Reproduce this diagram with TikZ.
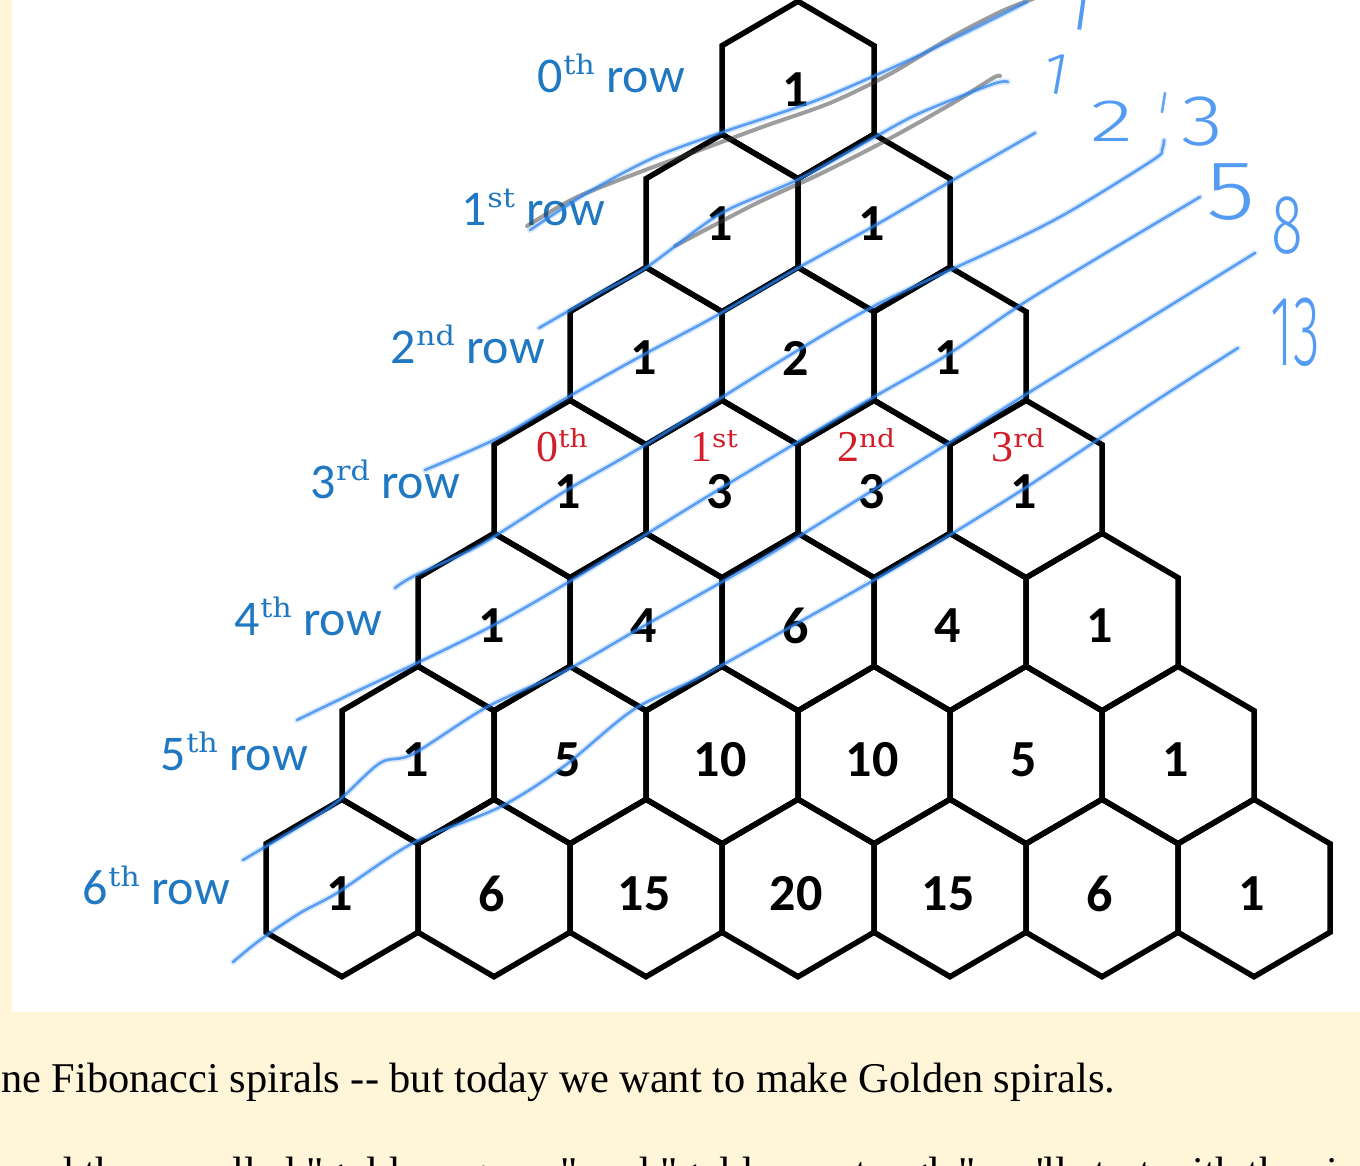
\documentclass[tikz,border=0pt]{standalone}
\usepackage{fontspec}
\usepackage{graphicx}
\newfontfamily\numfont{Carlito}
\newfontfamily\labfont{Carlito}
\newfontfamily\supfont{DejaVu Serif}
\newfontfamily\ordfont{Liberation Serif}
\newfontfamily\pagefont{Liberation Serif}[Ligatures=TeXOff]
% a light face for the pen-written sums, with fallbacks
\IfFontExistsTF{Fira Sans Light}{\newfontfamily\handfont{Fira Sans Light}}{%
 \IfFontExistsTF{Lato Light}{\newfontfamily\handfont{Lato Light}}{%
  \IfFontExistsTF{Open Sans Light}{\newfontfamily\handfont{Open Sans Light}}{%
   \IfFontExistsTF{Poppins Light}{\newfontfamily\handfont{Poppins Light}}{%
    \IfFontExistsTF{DejaVu Sans ExtraLight}{\newfontfamily\handfont{DejaVu Sans ExtraLight}}{%
     \newfontfamily\handfont{Fira Sans}}}}}}

\definecolor{pagecream}{HTML}{FFF6DA}
\definecolor{rowblue}{RGB}{31,120,193}
\definecolor{ordred}{RGB}{210,30,40}
\definecolor{penblue}{RGB}{40,130,240}
\definecolor{pengray}{RGB}{60,60,60}

% superscript of a row label and of an entry label
\newcommand\rowsup[1]{{\supfont\fontsize{27pt}{27pt}\selectfont\raisebox{18pt}{\scalebox{1.12}[1]{#1}}}}
\newcommand\ordsup[1]{{\supfont\fontsize{25pt}{25pt}\selectfont\raisebox{14pt}{\scalebox{1.12}[1]{#1}}}}

\begin{document}
\begin{tikzpicture}[x=1pt,y=-1pt,
  cellline/.style={line width=5.5pt, line join=miter, draw=black},
  cellnum/.style={font=\numfont\bfseries\fontsize{52pt}{52pt}\selectfont, inner sep=0pt, text=black},
  rowlabel/.style={font=\labfont\fontsize{50pt}{50pt}\selectfont, text=rowblue, inner sep=0pt, anchor=base east},
  ordlabel/.style={font=\ordfont\fontsize{44pt}{44pt}\selectfont, text=ordred, inner sep=0pt, anchor=base},
  penhalo/.style={draw=penblue, line width=6pt, opacity=0.18, line cap=round, line join=round},
  pen/.style={draw=penblue, line width=2.6pt, opacity=0.72, line cap=round, line join=round},
  smudge/.style={draw=pengray, line width=4pt, opacity=0.5, line cap=round, line join=round},
  handnum/.style={font=\handfont, text=penblue, opacity=0.8, inner sep=0pt},
  pagetext/.style={font=\pagefont\fontsize{42.4pt}{50pt}\selectfont, text=black, inner sep=0pt, anchor=base west}
]
\useasboundingbox (0,0) rectangle (1360,1166);
\clip (0,0) rectangle (1360,1166);

% page and white panel
\fill[pagecream] (0,0) rectangle (1360,1166);
\fill[white] (12,0) rectangle (1360,1012);

% hexagonal cells of Pascal's triangle with their binomial entries
\foreach \r in {0,...,6} {
  \foreach \c in {0,...,\r} {
    \pgfmathsetmacro\cx{798-76*\r+152*\c}
    \pgfmathsetmacro\cy{90+133*\r}
    \pgfmathtruncatemacro\v{round(factorial(\r)/(factorial(\c)*factorial(\r-\c)))}
    \draw[cellline] (\cx,\cy-88.7) -- (\cx+76,\cy-44.3) -- (\cx+76,\cy+44.3)
      -- (\cx,\cy+88.7) -- (\cx-76,\cy+44.3) -- (\cx-76,\cy-44.3) -- cycle;
    \node[cellnum] (n\r-\c) at (\cx-2,\cy+\r) {\v};
  }
}

% row labels
\foreach \r/\ord/\x/\y in {0/th/685/93, 1/st/605/226, 2/nd/545/363, 3/rd/460/498,
                           4/th/382/635, 5/th/308/770, 6/th/230/904}
  \node[rowlabel] (lab\r) at (\x,\y) {\r\rowsup{\ord}\ row};

% entry labels in the third row
\foreach \c/\ord in {0/th, 1/st, 2/nd, 3/rd} {
  \pgfmathsetmacro\cx{570+152*\c-8}
  \node[ordlabel] (ord\c) at (\cx,461) {\c\ordsup{\ord}};
}

% pencil shadows
\draw[smudge] plot[smooth, tension=0.5] coordinates {(527,226) (575,198) (640,172) (700,150) (765,126) (830,103) (890,74) (950,38) (1000,12) (1035,-2)};
\draw[smudge] plot[smooth, tension=0.5] coordinates {(675,246) (753,205) (820,174) (887,140) (953,103) (993,78) (1000,76)};

% shallow diagonals
\foreach \pts in {
  {(530,230) (587,193) (653,158) (720,133) (820,99) (920,55) (1027,2)},
  {(539,328) (600,293) (647,267) (720,214) (797,180) (873,138) (920,113) (993,84) (1008,82)},
  {(425,470) (500,437) (568,397) (643,355) (714,317) (798,268) (874,226) (960,176) (1035,133)},
  {(395,588) (414,576) (480,545) (567,490) (650,442) (795,352) (880,303) (1000,247) (1067,213) (1153,160) (1162,150) (1164,140)},
  {(297,720) (353,693) (417,663) (490,627) (567,583) (718,490) (860,405) (947,355) (1033,297) (1200,197)},
  {(243,860) (300,826) (337,802) (380,763) (413,754) (487,707) (567,670) (642,627) (760,560) (870,492) (960,436) (1033,390) (1150,318) (1255,253)},
  {(233,962) (260,940) (300,913) (337,893) (413,843) (500,807) (563,767) (633,710) (700,677) (794,625) (900,565) (1022,490) (1157,400) (1238,348)}} {
  \draw[penhalo] plot[smooth, tension=0.5] coordinates \pts;
  \draw[pen] plot[smooth, tension=0.5] coordinates \pts;
}

% handwritten sums
\node[handnum] (f0) at (1079,6) {\rotatebox{-8}{\fontsize{70pt}{70pt}\selectfont 1}};
\node[handnum] (f1) at (1056,74) {\rotatebox{-10}{\fontsize{60pt}{60pt}\selectfont 1}};
\node[handnum] (f2) at (1112,121) {\scalebox{1.5}[1]{\fontsize{60pt}{60pt}\selectfont 2}};
\draw[pen] (1165,93) -- (1162,112);
\node[handnum] (f3) at (1202,122) {\scalebox{1.2}[1]{\fontsize{72pt}{72pt}\selectfont 3}};
\node[handnum] (f4) at (1231,192) {\scalebox{1.2}[1]{\fontsize{84pt}{84pt}\selectfont 5}};
\node[handnum] (f5) at (1287,226) {\scalebox{0.7}[1]{\fontsize{84pt}{84pt}\selectfont 8}};
\node[handnum] (f6) at (1295,332) {\scalebox{0.55}[1]{\fontsize{100pt}{100pt}\selectfont 13}};

% page text below the panel
\node[pagetext] (para1) at (1,1092) {ne Fibonacci spirals -\kern0pt- but today we want to make Golden spirals.};
\node[pagetext] (para2) at (12,1186) {and the so called "golden square" and "golden rectangle" we'll start with the simple};
\end{tikzpicture}
\end{document}
